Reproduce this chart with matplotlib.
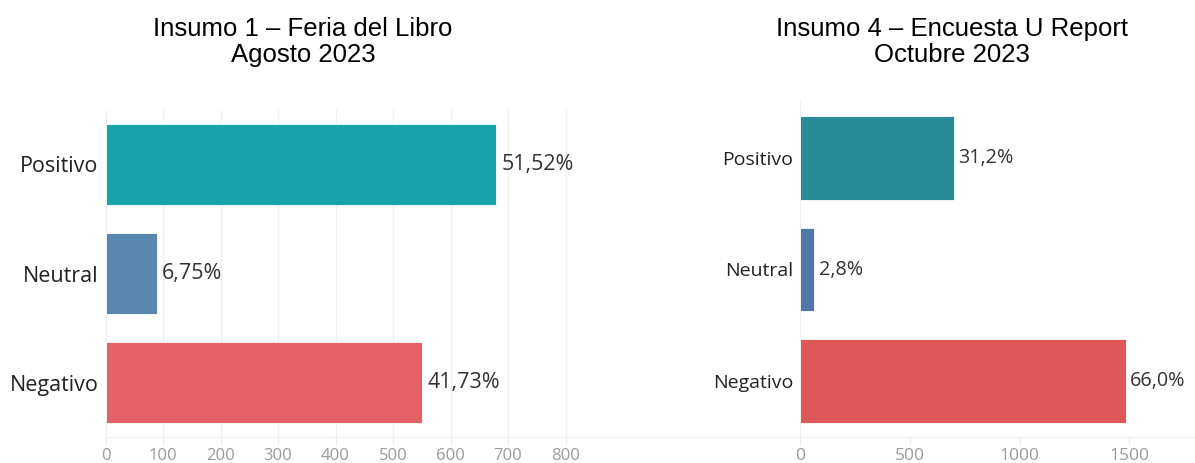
import matplotlib.pyplot as plt

categorias = ['Positivo', 'Neutral', 'Negativo']

# Insumo 1 - Feria del Libro (conteos y porcentajes)
feria_conteos = [679, 89, 550]
feria_pct = ['51,52%', '6,75%', '41,73%']
feria_colores = ['#18A2AA', '#5A86B0', '#E46265']

# Insumo 4 - Encuesta U Report
ureport_conteos = [701, 63, 1483]
ureport_pct = ['31,2%', '2,8%', '66,0%']
ureport_colores = ['#2A8A98', '#4F77A9', '#DF5859']

plt.rcParams['font.family'] = ['Open Sans', 'DejaVu Sans']

fig = plt.figure(figsize=(11.95, 4.63), dpi=100)
W, H = 1195.0, 463.0


def panel(x0, x1, y0, y1, conteos, pct, colores, xmax, ticks, grid,
          fs_cat, fs_val, fs_tick):
    ax = fig.add_axes([x0 / W, 1 - y1 / H, (x1 - x0) / W, (y1 - y0) / H])
    ypos = range(len(categorias))
    ax.barh(ypos, conteos, height=0.75, color=colores,
            edgecolor='white', linewidth=0.6, zorder=3)
    for y, v, t in zip(ypos, conteos, pct):
        ax.text(v + xmax * 0.011, y, t, va='center', ha='left',
                fontsize=fs_val, color='#333333')
    ax.set_ylim(2.5, -0.5)
    ax.set_xlim(0, xmax)
    ax.set_yticks(list(ypos))
    ax.set_yticklabels(categorias, fontsize=fs_cat, color='#222222')
    ax.set_xticks(ticks)
    ax.set_xticklabels([str(t) for t in ticks], fontsize=fs_tick, color='#9a9a9a')
    ax.tick_params(axis='y', length=0, pad=5)
    ax.tick_params(axis='x', length=6, color='#eeeeee', pad=2)
    for s in ['top', 'right']:
        ax.spines[s].set_visible(False)
    ax.spines['left'].set_color('#f0f0f0')
    ax.spines['bottom'].set_color('#f0f0f0')
    if grid:
        ax.grid(axis='x', color='#f0f0f0', linewidth=1, zorder=0)
    return ax


panel(105.5, 600, 110, 437, feria_conteos, feria_pct, feria_colores,
      860, [0, 100, 200, 300, 400, 500, 600, 700, 800], True, 15.5, 15.5, 12)
panel(800.4, 1195, 102, 437, ureport_conteos, ureport_pct, ureport_colores,
      1800, [0, 500, 1000, 1500], False, 14, 14.2, 12.5)

fig.text(303 / W, 1 - 42 / H, 'Insumo 1 – Feria del Libro\nAgosto 2023',
         ha='center', va='center', fontsize=18.5, family='Liberation Sans',
         linespacing=1.12)
fig.text(952 / W, 1 - 42 / H, 'Insumo 4 – Encuesta U Report\nOctubre 2023',
         ha='center', va='center', fontsize=18.5, family='Liberation Sans',
         linespacing=1.12)

# la linea base continua hasta el borde del panel de la derecha
fig.add_artist(plt.Line2D([600 / W, 800.4 / W], [1 - 437 / H, 1 - 437 / H],
                          color='#f0f0f0', linewidth=0.8))

fig.savefig('out.png', dpi=100)
